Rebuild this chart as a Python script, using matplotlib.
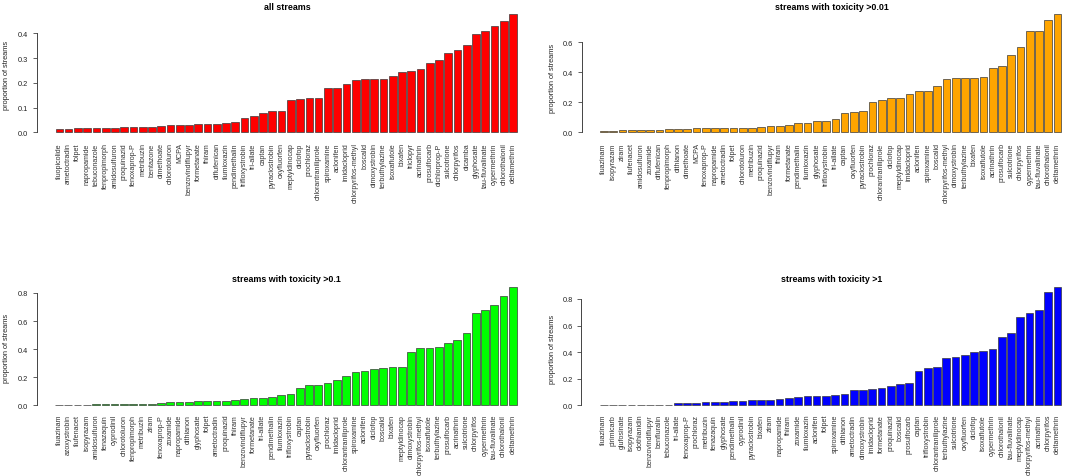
import matplotlib
matplotlib.use("Agg")
import matplotlib.pyplot as plt
import numpy as np

plt.rcParams['font.family'] = ['Liberation Sans', 'DejaVu Sans']

# ---------------- data ----------------
names_all = ["fluopicolide", "ametoctradin", "folpet", "napropamide", "tebuconazole",
             "fenpropimorph", "amidosulfuron", "proquinazid", "fenoxaprop-P", "metribuzin",
             "bentazone", "dimethoate", "chlorotoluron", "MCPA", "benzovindiflupyr",
             "formetanate", "thiram", "diflufenican", "flumioxazin", "pendimethalin",
             "trifloxystrobin", "tri-allate", "captan", "pyraclostrobin", "oxyfluorfen",
             "meptyldinocap", "diclofop", "prochloraz", "chlorantraniliprole", "spiroxamine",
             "aclonifen", "imidacloprid", "chlorpyrifos-methyl", "boscalid", "dimoxystrobin",
             "terbuthylazine", "isoxaflutole", "bixafen", "triclopyr", "acrinathrin",
             "prosulfocarb", "dichlorprop-P", "sulcotrione", "chlorpyrifos", "dicamba",
             "glyphosate", "tau-fluvalinate", "cypermethrin", "chlorothalonil", "deltamethrin"]
vals_all = [0.013, 0.013, 0.016, 0.016, 0.019, 0.019, 0.019, 0.022, 0.023, 0.023,
            0.023, 0.027, 0.030, 0.030, 0.031, 0.034, 0.034, 0.034, 0.038, 0.040,
            0.059, 0.067, 0.079, 0.086, 0.086, 0.132, 0.135, 0.137, 0.139, 0.178,
            0.178, 0.195, 0.213, 0.214, 0.214, 0.217, 0.226, 0.244, 0.246, 0.256,
            0.279, 0.291, 0.321, 0.331, 0.352, 0.396, 0.409, 0.430, 0.448, 0.478]

names_001 = ["fluazinam", "isopyrazam", "ziram", "flufenacet", "amidosulfuron",
             "zoxamide", "diflufenican", "fenpropimorph", "dithianon", "dimethoate",
             "MCPA", "fenoxaprop-P", "napropamide", "ametoctradin", "folpet",
             "chlorotoluron", "metribuzin", "proquinazid", "benzovindiflupyr", "thiram",
             "formetanate", "pendimethalin", "flumioxazin", "glyphosate", "trifloxystrobin",
             "tri-allate", "captan", "oxyfluorfen", "pyraclostrobin", "prochloraz",
             "chlorantraniliprole", "diclofop", "meptyldinocap", "imidacloprid", "aclonifen",
             "spiroxamine", "boscalid", "chlorpyrifos-methyl", "dimoxystrobin", "terbuthylazine",
             "bixafen", "isoxaflutole", "acrinathrin", "prosulfocarb", "sulcotrione",
             "chlorpyrifos", "cypermethrin", "tau-fluvalinate", "chlorothalonil", "deltamethrin"]
vals_001 = [0.009, 0.009, 0.013, 0.013, 0.013, 0.018, 0.018, 0.022, 0.022, 0.022,
            0.027, 0.027, 0.027, 0.027, 0.027, 0.027, 0.027, 0.033, 0.042, 0.044,
            0.046, 0.062, 0.062, 0.073, 0.075, 0.088, 0.126, 0.133, 0.139, 0.204,
            0.217, 0.226, 0.228, 0.257, 0.272, 0.277, 0.310, 0.354, 0.358, 0.363,
            0.363, 0.370, 0.425, 0.438, 0.513, 0.564, 0.670, 0.670, 0.743, 0.785]

names_01 = ["fluazinam", "azoxystrobin", "flufenacet", "isopyrazam", "amidosulfuron",
            "fenazaquin", "cyprodinil", "chlorotoluron", "fenpropimorph", "metribuzin",
            "ziram", "fenoxaprop-P", "zoxamide", "napropamide", "dithianon",
            "glyphosate", "folpet", "ametoctradin", "proquinazid", "thiram",
            "benzovindiflupyr", "formetanate", "tri-allate", "pendimethalin", "flumioxazin",
            "trifloxystrobin", "captan", "pyraclostrobin", "oxyfluorfen", "prochloraz",
            "imidacloprid", "chlorantraniliprole", "spiroxamine", "aclonifen", "diclofop",
            "boscalid", "bixafen", "meptyldinocap", "dimoxystrobin", "chlorpyrifos-methyl",
            "isoxaflutole", "terbuthylazine", "prosulfocarb", "acrinathrin", "sulcotrione",
            "chlorpyrifos", "cypermethrin", "tau-fluvalinate", "chlorothalonil", "deltamethrin"]
vals_01 = [0.005, 0.005, 0.005, 0.005, 0.007, 0.007, 0.007, 0.012, 0.012, 0.012,
           0.012, 0.017, 0.024, 0.024, 0.024, 0.028, 0.028, 0.033, 0.033, 0.036,
           0.045, 0.050, 0.055, 0.057, 0.074, 0.081, 0.124, 0.143, 0.147, 0.159,
           0.183, 0.211, 0.235, 0.245, 0.259, 0.268, 0.276, 0.276, 0.378, 0.406,
           0.409, 0.413, 0.447, 0.463, 0.515, 0.658, 0.682, 0.717, 0.777, 0.841]

names_1 = ["fluazinam", "pirimicarb", "glufosinate", "isopyrazam", "clothianidin",
           "benzovindiflupyr", "benfluralin", "tebuconazole", "tri-allate", "fenoxaprop-P",
           "prochloraz", "metribuzin", "fenazaquin", "glyphosate", "pendimethalin",
           "cyprodinil", "pyraclostrobin", "bixafen", "ziram", "napropamide",
           "thiram", "zoxamide", "flumioxazin", "aclonifen", "folpet",
           "spiroxamine", "dithianon", "ametoctradin", "dimoxystrobin", "imidacloprid",
           "formetanate", "proquinazid", "boscalid", "prosulfocarb", "captan",
           "trifloxystrobin", "chlorantraniliprole", "terbuthylazine", "sulcotrione", "oxyfluorfen",
           "diclofop", "isoxaflutole", "cypermethrin", "chlorothalonil", "tau-fluvalinate",
           "meptyldinocap", "chlorpyrifos-methyl", "acrinathrin", "chlorpyrifos", "deltamethrin"]
vals_1 = [0.002, 0.002, 0.005, 0.005, 0.005, 0.005, 0.005, 0.005, 0.015, 0.015,
          0.018, 0.023, 0.028, 0.028, 0.035, 0.035, 0.038, 0.043, 0.043, 0.050,
          0.055, 0.060, 0.068, 0.073, 0.073, 0.078, 0.085, 0.115, 0.115, 0.125,
          0.128, 0.145, 0.158, 0.168, 0.261, 0.281, 0.286, 0.353, 0.366, 0.381,
          0.401, 0.406, 0.424, 0.511, 0.544, 0.662, 0.692, 0.717, 0.850, 0.887]

titles = ["all streams", "streams with toxicity >0.01",
          "streams with toxicity >0.1", "streams with toxicity >1"]
colors = ["#FF0000", "#FFA500", "#00FF00", "#0000FF"]
yticks = [[0, 0.1, 0.2, 0.3, 0.4], [0, 0.2, 0.4, 0.6],
          [0, 0.2, 0.4, 0.6, 0.8], [0, 0.2, 0.4, 0.6, 0.8]]
ylabel = "proportion of streams"

# ---------------- layout (pixels) ----------------
W, H = 1065, 477
fig = plt.figure(figsize=(W / 100, H / 100), dpi=100)
fig.patch.set_facecolor("white")

# left px, baseline px, px per unit, top px, title y, ylabel x, ylabel y, label gap px
layout = [
    (37.0, 133.3, 247.5, 10, 8, 7, 75, 10),
    (581.5, 133.3, 150.5, 10, 8, 552, 78, 10),
    (36.7, 406.3, 140.4, 283, 280, 7, 348, 8.5),
    (581.3, 406.3, 132.9, 283, 280, 552, 349, 8.5),
]
AXW = 500.0

data = [(names_all, vals_all), (names_001, vals_001),
        (names_01, vals_01), (names_1, vals_1)]

for k, ((names, vals), (lx, base, sc, top, ty, ylx, yly, gap)) in enumerate(zip(data, layout)):
    bottom_px = base + 5
    ax = fig.add_axes([lx / W, 1 - bottom_px / H, AXW / W, (bottom_px - top) / H])
    ax.set_facecolor("none")
    n = len(vals)
    lefts = 0.2 + 1.2 * np.arange(n)
    centers = lefts + 0.5
    ax.bar(centers, vals, width=1.0, color=colors[k], edgecolor="#3a3a3a",
           linewidth=0.5, clip_on=False)
    ax.set_xlim(0.2 - 2.4, 0.2 + 1.2 * n + 2.4)
    ax.set_ylim(-(bottom_px - base) / sc, (base - top) / sc)
    for s in ["top", "right", "bottom"]:
        ax.spines[s].set_visible(False)
    ax.spines["left"].set_bounds(yticks[k][0], yticks[k][-1])
    ax.spines["left"].set_color("#444444")
    ax.spines["left"].set_linewidth(0.7)
    ax.set_yticks(yticks[k])
    ax.set_yticklabels([f"{t:.1f}" for t in yticks[k]], fontsize=5.3, color="#222222")
    ax.tick_params(axis="y", length=3.1, width=0.6, color="#444444", pad=3.2)
    ax.set_xticks(centers)
    ax.set_xticklabels(names, rotation=90, fontsize=5.1, color="#333333",
                       va="top", ha="center")
    ax.tick_params(axis="x", length=0, pad=max(0.0, (base + gap - bottom_px) * 0.72))
    # title
    fig.text((lx + AXW / 2) / W, 1 - ty / H, titles[k], fontsize=6.4,
             fontweight="bold", ha="center", va="center", color="black")
    fig.text(ylx / W, 1 - yly / H, ylabel, fontsize=5.3, rotation=90,
             ha="center", va="center", color="#222222")

fig.savefig("out.png", dpi=100, facecolor="white")
